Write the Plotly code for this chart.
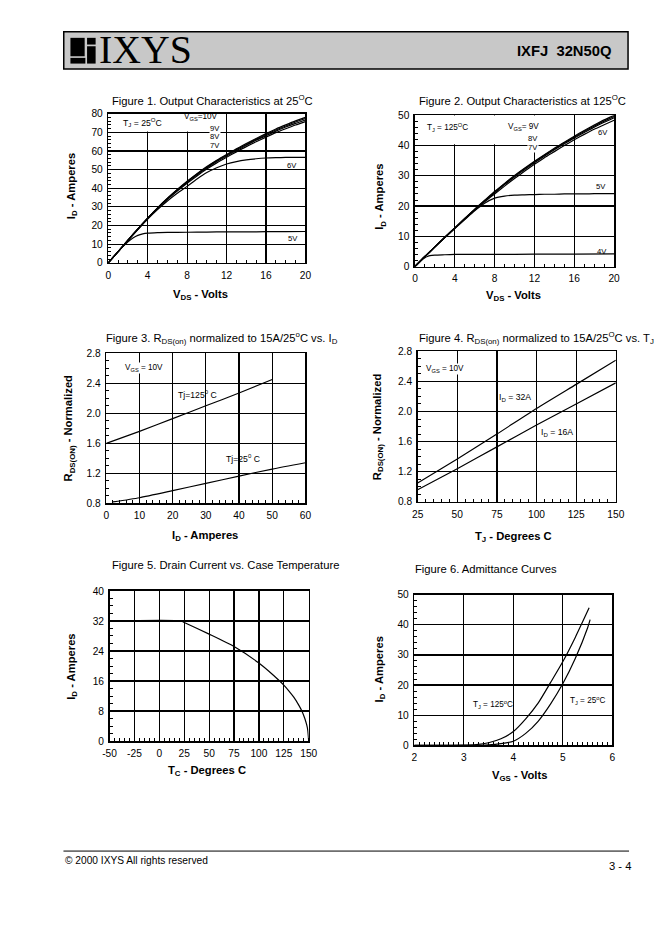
import plotly.graph_objects as go

W, H = 662, 936
FONT = "Liberation Sans"

# ---------------- data ----------------
# Figure 1 - output characteristics at 25C (VDS volts, ID amperes)
f1_vds = [0, 1, 2, 3, 4, 5, 6, 7, 8, 9, 10, 11, 12, 13, 14, 15, 16, 17, 18, 19, 20]
f1_id_10v = [0, 6.0, 12.2, 18.2, 24.0, 29.5, 34.6, 39.3, 43.7, 47.8, 51.6, 55.0, 58.1, 61.1, 64.0, 66.7, 69.3, 71.8, 74.0, 76.1, 78.0]
f1_id_9v = [0, 6.0, 12.2, 18.2, 24.0, 29.5, 34.5, 39.2, 43.5, 47.6, 51.3, 54.7, 57.8, 60.7, 63.5, 66.2, 68.8, 71.2, 73.4, 75.5, 77.4]
f1_id_8v = [0, 6.0, 12.2, 18.1, 23.9, 29.3, 34.3, 38.9, 43.2, 47.2, 50.9, 54.3, 57.3, 60.2, 63.0, 65.7, 68.2, 70.6, 72.8, 74.8, 76.6]
f1_id_7v = [0, 6.0, 12.1, 18.0, 23.8, 29.1, 34.0, 38.5, 42.7, 46.6, 50.3, 53.6, 56.6, 59.5, 62.3, 64.9, 67.4, 69.8, 71.9, 73.9, 75.7]
f1_id_6v = [0, 6.0, 12.0, 17.8, 23.5, 28.6, 33.2, 37.3, 41.0, 44.9, 48.4, 51.0, 53.0, 54.3, 55.2, 55.8, 56.2, 56.4, 56.5, 56.5, 56.6]
f1_vds_5v = [0, 0.5, 1, 1.5, 2, 2.5, 3, 3.5, 4, 5, 6, 8, 10, 12, 14, 16, 18, 20]
f1_id_5v = [0, 3.0, 6.0, 8.8, 11.3, 13.3, 14.7, 15.5, 15.9, 16.2, 16.3, 16.4, 16.5, 16.6, 16.6, 16.7, 16.7, 16.8]

# Figure 2 - output characteristics at 125C
f2_vds = [0, 1, 2, 3, 4, 5, 6, 7, 8, 9, 10, 11, 12, 13, 14, 15, 16, 17, 18, 19, 20]
f2_id_9v = [0, 3.3, 6.5, 9.7, 12.8, 15.9, 19.0, 21.9, 24.8, 27.5, 30.1, 32.5, 34.8, 37.0, 39.1, 41.1, 43.1, 45.0, 46.8, 48.5, 50.0]
f2_id_8v = [0, 3.3, 6.5, 9.7, 12.8, 15.9, 18.9, 21.8, 24.6, 27.3, 29.9, 32.3, 34.6, 36.8, 38.9, 40.9, 42.8, 44.7, 46.5, 48.1, 49.6]
f2_id_7v = [0, 3.3, 6.5, 9.6, 12.7, 15.8, 18.8, 21.7, 24.4, 27.1, 29.6, 32.0, 34.3, 36.5, 38.6, 40.6, 42.5, 44.3, 46.1, 47.7, 49.2]
f2_id_6v = [0, 3.3, 6.5, 9.6, 12.6, 15.6, 18.6, 21.4, 24.0, 26.6, 29.1, 31.5, 33.8, 36.0, 38.0, 40.0, 41.9, 43.7, 45.4, 46.9, 48.4]
f2_id_5v = [0, 3.3, 6.4, 9.6, 12.6, 15.5, 18.4, 20.9, 22.6, 23.3, 23.6, 23.7, 23.8, 23.9, 23.9, 24.0, 24.0, 24.0, 24.1, 24.1, 24.1]
f2_vds_4v = [0, 0.25, 0.5, 0.75, 1, 1.25, 1.5, 2, 3, 4, 6, 8, 12, 16, 20]
f2_id_4v = [0, 0.8, 1.6, 2.3, 2.9, 3.3, 3.6, 3.8, 3.9, 4.0, 4.0, 4.0, 4.1, 4.1, 4.2]

# Figure 3 - RDS(on) normalized vs ID
f3_id_125 = [0, 10, 20, 30, 40, 50]
f3_r_125 = [1.60, 1.76, 1.93, 2.10, 2.27, 2.45]
f3_id_25 = [2, 10, 20, 30, 40, 50, 60]
f3_r_25 = [0.82, 0.876, 0.97, 1.067, 1.164, 1.258, 1.342]

# Figure 4 - RDS(on) normalized vs TJ
f4_tj = [25, 50, 75, 100, 125, 150]
f4_r_32a = [1.05, 1.37, 1.70, 2.04, 2.36, 2.68]
f4_r_16a = [0.96, 1.24, 1.53, 1.82, 2.10, 2.38]

# Figure 5 - drain current vs case temperature
f5_tc = [-50, 22, 25, 50, 75, 100, 110, 120, 125, 130, 135, 140, 143, 146, 148, 149, 150]
f5_id = [32, 32, 31.6, 28.5, 25.2, 20.8, 18.6, 16.2, 14.9, 13.4, 11.7, 9.6, 8.1, 6.1, 4.3, 3.0, 0]
f5_xtick_vals = [-50, -25, 0, 25, 50, 75, 100, 125, 150]
f5_xtick_text = ["-50", "-25", "0", "25", "50", "75", "100", "125", "150"]

# Figure 6 - admittance curves
f6_vgs_125 = [2.0, 2.5, 3.0, 3.25, 3.5, 3.75, 4.0, 4.25, 4.5, 4.75, 5.0, 5.25, 5.53]
f6_id_125 = [0, 0, 0.1, 0.3, 0.9, 2.2, 4.6, 8.8, 14.0, 20.8, 27.8, 35.8, 45.6]
f6_vgs_25 = [2.0, 3.0, 3.5, 3.75, 4.0, 4.25, 4.5, 4.75, 5.0, 5.25, 5.5, 5.55]
f6_id_25 = [0, 0, 0.2, 0.6, 1.4, 4.0, 8.0, 13.7, 20.5, 28.8, 39.0, 41.7]

# ---------------- page geometry (pixels on the printed page) ----------------
frames = {
    1: (107, 305, 114, 263),
    2: (415, 615, 115.7, 266.7),
    3: (105, 305, 353.3, 503.3),
    4: (417.7, 616.7, 351.3, 501.7),
    5: (108.3, 308.3, 590.7, 740.7),
    6: (414.3, 613.3, 594.3, 745),
}

axis_specs = {
    1: ([0, 20], 4, 1, [0, 80], 10, 2, None),
    2: ([0, 20], 4, 1, [0, 50], 10, 2, None),
    3: ([0, 60], 10, 2, [0.8, 2.8], 0.4, 0.1, ".1f"),
    4: ([25, 150], 25, 5, [0.8, 2.8], 0.4, 0.1, ".1f"),
    5: ([-50, 150], 25, 5, [0, 40], 8, 2, None),
    6: ([2, 6], 1, 0.1, [0, 50], 10, 2, None),
}

# the photographed page is slightly shrunk and offset; compensate
SX, OX = 0.98, 5.3
SY, OY = 0.987, 5.5
FS = 1.02


def px(x):
    return ((x - OX) / SX) / W


def py(y):
    return 1 - ((y - OY) / SY) / H


def fs(s):
    return round(s * FS, 2)


fig = go.Figure()

line_style = dict(color="black", width=1.2, shape="spline", smoothing=0.6)


def add(x, y, n):
    fig.add_trace(go.Scatter(
        x=x, y=y, mode="lines", line=line_style, showlegend=False,
        hoverinfo="skip",
        xaxis="x" if n == 1 else f"x{n}", yaxis="y" if n == 1 else f"y{n}"))


for s in [f1_id_10v, f1_id_9v, f1_id_8v, f1_id_7v, f1_id_6v]:
    add(f1_vds, s, 1)
add(f1_vds_5v, f1_id_5v, 1)

for s in [f2_id_9v, f2_id_8v, f2_id_7v, f2_id_6v, f2_id_5v]:
    add(f2_vds, s, 2)
add(f2_vds_4v, f2_id_4v, 2)

add(f3_id_125, f3_r_125, 3)
add(f3_id_25, f3_r_25, 3)

add(f4_tj, f4_r_32a, 4)
add(f4_tj, f4_r_16a, 4)

add(f5_tc, f5_id, 5)

add(f6_vgs_125, f6_id_125, 6)
add(f6_vgs_25, f6_id_25, 6)

layout = dict(
    width=W, height=H,
    margin=dict(l=0, r=0, t=0, b=0),
    paper_bgcolor="white", plot_bgcolor="white",
    font=dict(family=FONT, color="black"),
    showlegend=False,
    hovermode=False,
)

for n, (l, r, t, b) in frames.items():
    xr, xd, xm, yr, yd, ym, yfmt = axis_specs[n]
    common = dict(
        showline=True, linecolor="black", linewidth=1.5, mirror=True,
        showgrid=True, gridcolor="black", gridwidth=1.2, zeroline=False,
        ticks="", tickfont=dict(family=FONT, size=fs(10), color="black"),
        fixedrange=True, ticklabelstandoff=2,
    )
    xa = dict(common, domain=[px(l), px(r)], range=xr, tick0=xr[0], dtick=xd,
              anchor="y" if n == 1 else f"y{n}",
              minor=dict(dtick=xm, ticks="inside", ticklen=3, tickwidth=1,
                         tickcolor="black", showgrid=False))
    ya = dict(common, domain=[py(b), py(t)], range=yr, tick0=yr[0], dtick=yd,
              anchor="x" if n == 1 else f"x{n}",
              minor=dict(dtick=ym, ticks="inside", ticklen=3, tickwidth=1,
                         tickcolor="black", showgrid=False))
    if yfmt:
        ya["tickformat"] = yfmt
    if n == 5:
        xa["tickmode"] = "array"
        xa["tickvals"] = f5_xtick_vals
        xa["ticktext"] = f5_xtick_text
    layout["xaxis" if n == 1 else f"xaxis{n}"] = xa
    layout["yaxis" if n == 1 else f"yaxis{n}"] = ya

fig.update_layout(**layout)

# ---------------- shapes ----------------
shapes = []
shapes.append(dict(type="rect", xref="paper", yref="paper",
                   x0=px(62.3), x1=px(629), y0=py(69.3), y1=py(32.3),
                   fillcolor="#c8c8c8", line=dict(color="black", width=1.5)))
for (a, b_, c, d) in [(69, 83.3, 38.3, 56.7), (85.7, 94.3, 38.3, 45),
                      (85.7, 94.3, 46.7, 64), (69, 84, 58.3, 64)]:
    shapes.append(dict(type="rect", xref="paper", yref="paper",
                       x0=px(a), x1=px(b_), y0=py(d), y1=py(c),
                       fillcolor="black", line=dict(width=0)))
shapes.append(dict(type="line", xref="paper", yref="paper",
                   x0=px(62), x1=px(630), y0=py(850.5), y1=py(850.5),
                   line=dict(color="black", width=1)))
shapes.append(dict(type="rect", xref="x", yref="y", x0=0, x1=11.3, y0=70.4, y1=80,
                   fillcolor="white", line=dict(width=0), layer="between"))
shapes.append(dict(type="rect", xref="x2", yref="y2", x0=0, x1=12.6, y0=40.4, y1=50,
                   fillcolor="white", line=dict(width=0), layer="between"))
fig.update_layout(shapes=shapes)

# ---------------- annotations ----------------
ann = []


def ptext(text, x, y, size, xanchor="center", bold=False, angle=0, family=FONT):
    ann.append(dict(text=f"<b>{text}</b>" if bold else text, xref="paper", yref="paper",
                    x=px(x), y=py(y), xanchor=xanchor, yanchor="middle",
                    showarrow=False, textangle=angle,
                    font=dict(family=family, size=fs(size), color="black")))


def dtext(text, x, y, n, size, bg=None, xanchor="center"):
    d = dict(text=text, xref="x" if n == 1 else f"x{n}", yref="y" if n == 1 else f"y{n}",
             x=x, y=y, xanchor=xanchor, yanchor="middle", showarrow=False,
             font=dict(family=FONT, size=fs(size), color="black"), borderpad=0)
    if bg:
        d["bgcolor"] = bg
    ann.append(d)


ptext("IXYS", 96, 50.5, 39, xanchor="left", family="Liberation Serif")
ptext("<b>IXFJ  32N50Q</b>", 614, 51.5, 14.5, xanchor="right")
ptext("© 2000 IXYS All rights reserved", 62, 860, 10, xanchor="left")
ptext("3 - 4", 634, 865, 11, xanchor="right")

ptext("Figure 1. Output Characteristics at 25<sup>O</sup>C", 109, 100, 11, xanchor="left")
ptext("Figure 2. Output Characteristics at 125<sup>O</sup>C", 417, 100, 11, xanchor="left")
ptext("Figure 3. R<sub>DS(on)</sub> normalized to 15A/25<sup>o</sup>C vs. I<sub>D</sub>", 103, 338, 11, xanchor="left")
ptext("Figure 4. R<sub>DS(on)</sub> normalized to 15A/25<sup>O</sup>C vs. T<sub>J</sub>", 417, 338, 11, xanchor="left")
ptext("Figure 5. Drain Current vs. Case Temperature", 109, 565, 11, xanchor="left")
ptext("Figure 6. Admittance Curves", 413, 569, 11, xanchor="left")

ptext("V<sub>DS</sub> - Volts", 200, 295, 11, bold=True)
ptext("I<sub>D</sub> - Amperes", 70, 186, 11, bold=True, angle=-90)
ptext("V<sub>DS</sub> - Volts", 514, 296.5, 11, bold=True)
ptext("I<sub>D</sub> - Amperes", 380, 197, 11, bold=True, angle=-90)
ptext("I<sub>D</sub> - Amperes", 204, 536, 11, bold=True)
ptext("R<sub>DS(ON)</sub> - Normalized", 68, 428, 11, bold=True, angle=-90)
ptext("T<sub>J</sub> - Degrees C", 514, 536.5, 11, bold=True)
ptext("R<sub>DS(ON)</sub> - Normalized", 378, 427, 11, bold=True, angle=-90)
ptext("T<sub>C</sub> - Degrees C", 206, 771, 11, bold=True)
ptext("I<sub>D</sub> - Amperes", 71, 666, 11, bold=True, angle=-90)
ptext("V<sub>GS</sub> - Volts", 520, 776, 11, bold=True)
ptext("I<sub>D</sub> - Amperes", 380, 669, 11, bold=True, angle=-90)

dtext("T<sub>J</sub> = 25<sup>O</sup>C", 3.5, 75.2, 1, 8.5)
dtext("V<sub>GS</sub>=10V", 9.4, 78.3, 1, 8)
dtext("9V", 10.8, 72, 1, 7.5, bg="white")
dtext("8V", 10.8, 67.7, 1, 7.5)
dtext("7V", 10.8, 63, 1, 7.5)
dtext("6V", 18.6, 52, 1, 7.5)
dtext("5V", 18.75, 13, 1, 7.5)

dtext("T<sub>J</sub> = 125<sup>O</sup>C", 3.3, 46, 2, 8)
dtext("V<sub>GS</sub>= 9V", 10.9, 46.2, 2, 8)
dtext("8V", 11.9, 42.5, 2, 7.5)
dtext("7V", 11.9, 39.4, 2, 7.5, bg="white")
dtext("6V", 18.9, 44.2, 2, 7.5)
dtext("5V", 18.7, 26.3, 2, 7.5)
dtext("4V", 18.8, 5.1, 2, 7.5)

dtext("V<sub>GS</sub> = 10V", 11.4, 2.608, 3, 8, bg="white")
dtext("Tj=125<sup>0</sup> C", 27.5, 2.244, 3, 8.5)
dtext("Tj=25<sup>0</sup> C", 41.3, 1.40, 3, 8.5)

dtext("V<sub>GS</sub> = 10V", 42.1, 2.565, 4, 8, bg="white")
dtext("I<sub>D</sub> = 32A", 86.6, 2.188, 4, 8.5)
dtext("I<sub>D</sub> = 16A", 113, 1.723, 4, 8.5)

dtext("T<sub>J</sub> = 125<sup>o</sup>C", 3.59, 13.5, 6, 8)
dtext("T<sub>J</sub> = 25<sup>o</sup>C", 5.5, 14.9, 6, 8)

fig.update_layout(annotations=ann)

fig.write_html(
    "out.html",
    config={"displayModeBar": False, "staticPlot": True},
    post_script=(
        "document.documentElement.style.margin='0px';"
        "document.documentElement.style.padding='0px';"
        "document.documentElement.style.overflow='hidden';"
        "document.body.style.margin='0px';"
        "document.body.style.padding='0px';"
        "document.body.style.overflow='hidden';"
    ),
)
